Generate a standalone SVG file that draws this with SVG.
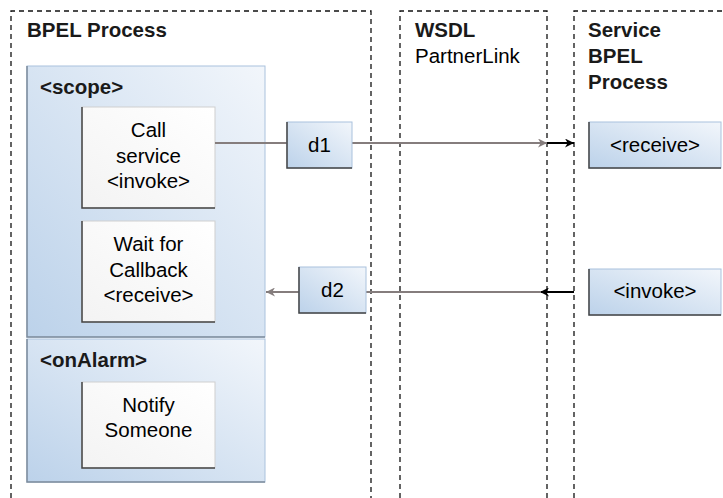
<svg xmlns="http://www.w3.org/2000/svg" width="723" height="498" viewBox="0 0 723 498">
<defs>
<linearGradient id="blue" x1="0" y1="1" x2="1" y2="0">
<stop offset="0" stop-color="#bcd2ea"/>
<stop offset="1" stop-color="#f2f6fb"/>
</linearGradient>
<linearGradient id="white" x1="0" y1="1" x2="1" y2="0">
<stop offset="0" stop-color="#f3f3f3"/>
<stop offset="1" stop-color="#ffffff"/>
</linearGradient>
<marker id="ag" viewBox="0 0 10 10" refX="10" refY="5" markerWidth="10" markerHeight="9" markerUnits="userSpaceOnUse" orient="auto">
<path d="M0,0 L10,5 L0,10 L3,5 Z" fill="#857d7d"/>
</marker>
<marker id="ak" viewBox="0 0 10 10" refX="10" refY="5" markerWidth="10" markerHeight="9" markerUnits="userSpaceOnUse" orient="auto">
<path d="M0,0 L10,5 L0,10 L3,5 Z" fill="#000"/>
</marker>
</defs>
<style>
.lane{fill:none;stroke:#111;stroke-width:1.3;stroke-dasharray:5 4}
.h{font-family:"Liberation Sans",Arial,sans-serif;font-weight:bold;font-size:20.5px;fill:#1a1a1a}
.t{font-family:"Liberation Sans",Arial,sans-serif;font-size:20.5px;fill:#000}
.c{text-anchor:middle}
.bb{fill:url(#blue);stroke:#aac2dd;stroke-width:1}
.wb{fill:url(#white);stroke:#cfcfcf;stroke-width:1}
.sh{fill:none;stroke:#444;stroke-width:1.5}
.shl{fill:none;stroke:#7e8c9c;stroke-width:1.5}
.gl{fill:none;stroke:#857d7d;stroke-width:2}
.kl{fill:none;stroke:#000;stroke-width:2}
</style>
<g id="lanes">
<path class="lane" d="M11,498 V11 H371 V498"/>
<path class="lane" d="M400,498 V11 H547 V498"/>
<path class="lane" d="M574,498 V11 H723"/>
<text class="h" x="27" y="37">BPEL Process</text>
<text class="h" x="415" y="37">WSDL</text>
<text class="t" x="415" y="63">PartnerLink</text>
<text class="h" x="588" y="37">Service</text>
<text class="h" x="588" y="63">BPEL</text>
<text class="h" x="588" y="89">Process</text>
</g>
<g id="scope">
<rect class="bb" x="27" y="66" width="238" height="271"/>
<path class="shl" d="M27,66 V337 H265"/>
<text class="h" x="40" y="94">&lt;scope&gt;</text>
</g>
<g id="onAlarm">
<rect class="bb" x="27" y="339" width="238" height="143"/>
<path class="shl" d="M27,339 V482 H265"/>
<text class="h" x="40" y="367">&lt;onAlarm&gt;</text>
</g>
<g id="callService">
<rect class="wb" x="82" y="107" width="133" height="101"/>
<path class="sh" d="M82,107 V208 H215"/>
<text class="t c" x="148.5" y="137">Call</text>
<text class="t c" x="148.5" y="163">service</text>
<text class="t c" x="148.5" y="188">&lt;invoke&gt;</text>
</g>
<g id="waitCallback">
<rect class="wb" x="82" y="221" width="133" height="101"/>
<path class="sh" d="M82,221 V322 H215"/>
<text class="t c" x="148.5" y="251">Wait for</text>
<text class="t c" x="148.5" y="277">Callback</text>
<text class="t c" x="148.5" y="302">&lt;receive&gt;</text>
</g>
<g id="notify">
<rect class="wb" x="82" y="382" width="133" height="86"/>
<path class="sh" d="M82,382 V468 H215"/>
<text class="t c" x="148.5" y="412">Notify</text>
<text class="t c" x="148.5" y="437">Someone</text>
</g>
<g id="connectors">
<path class="gl" d="M215,143 H287"/>
<path class="gl" d="M352,143 H547" marker-end="url(#ag)"/>
<path class="kl" d="M547,143 H574" marker-end="url(#ak)"/>
<path class="kl" d="M574,292 H540" marker-end="url(#ak)"/>
<path class="gl" d="M541,292 H366"/>
<path class="gl" d="M299,292 H266" marker-end="url(#ag)"/>
</g>
<g id="d1">
<rect class="bb" x="287" y="122" width="65" height="46"/>
<path class="sh" d="M287,122 V168 H352"/>
<text class="t c" x="319.5" y="152">d1</text>
</g>
<g id="d2">
<rect class="bb" x="299" y="267" width="67" height="46"/>
<path class="sh" d="M299,267 V313 H366"/>
<text class="t c" x="332.5" y="297">d2</text>
</g>
<g id="receive">
<rect class="bb" x="589" y="122" width="132" height="46"/>
<path class="sh" d="M589,122 V168 H721"/>
<text class="t c" x="655" y="152">&lt;receive&gt;</text>
</g>
<g id="invoke">
<rect class="bb" x="589" y="269" width="132" height="46"/>
<path class="sh" d="M589,269 V315 H721"/>
<text class="t c" x="655" y="298">&lt;invoke&gt;</text>
</g>
</svg>
